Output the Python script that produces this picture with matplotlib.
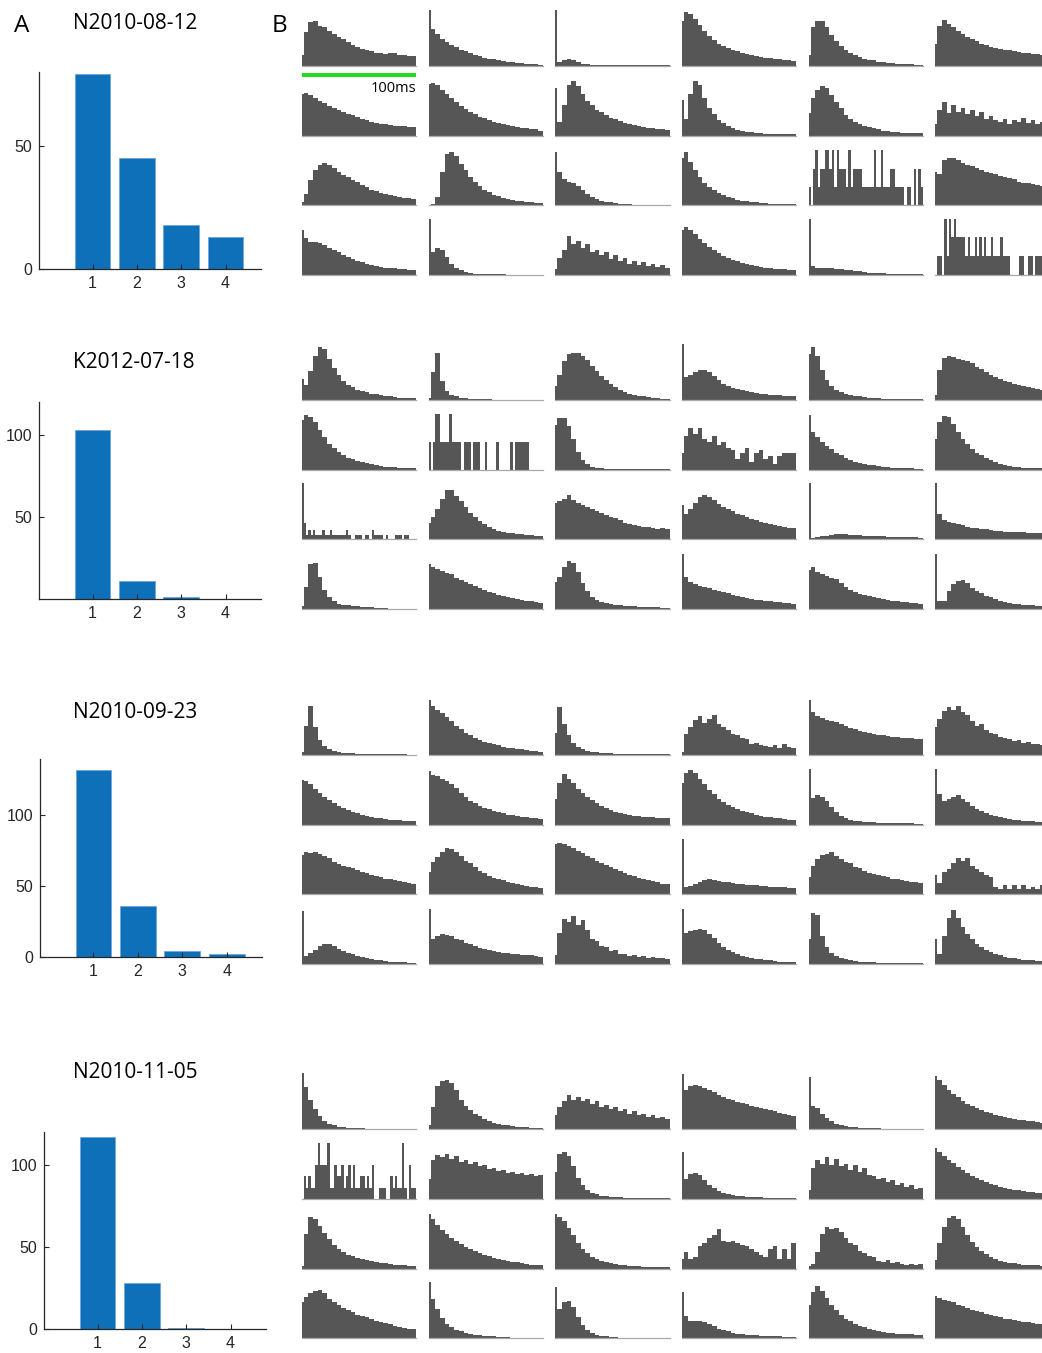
import numpy as np
import matplotlib
matplotlib.use("Agg")
import matplotlib.pyplot as plt
from matplotlib.patches import Rectangle

# ---------------- data ----------------
SESSIONS = ["N2010-08-12", "K2012-07-18", "N2010-09-23", "N2010-11-05"]
CATEGORIES = [1, 2, 3, 4]
COUNTS_G1 = [79, 45, 18, 13]
COUNTS_G2 = [103, 11, 1, 0]
COUNTS_G3 = [132, 36, 4, 2]
COUNTS_G4 = [117, 28, 1, 0]
YMAX = [80, 120, 140, 120]
YTICKS = [[0, 50], [50, 100], [0, 50, 100], [0, 50, 100]]
SCALE_MS = 100

# histograms (percent of panel height); element 0 = 0-2 ms bin,
# the remaining values split 2-100 ms evenly. Row-major, 6 per row.
HIST_G1 = [
    [20, 60, 78, 80, 72, 70, 62, 58, 52, 48, 42, 38, 34, 30, 29, 26, 24, 24, 22, 24, 23, 20, 20, 18, 17],
    [100, 66, 57, 49, 43, 38, 34, 29, 26, 23, 20, 17, 15, 13, 12, 10, 9, 8, 7, 5, 5, 4, 3, 3, 2],
    [100, 8, 10, 12, 10, 7, 4, 3, 2, 2, 2, 1, 1, 1, 1, 1, 1, 1, 1, 1, 1, 1, 1, 1, 1],
    [80, 96, 92, 84, 74, 62, 54, 47, 40, 35, 32, 29, 26, 24, 21, 19, 18, 16, 15, 14, 12, 12, 11, 10, 9],
    [20, 70, 80, 80, 70, 55, 44, 36, 29, 24, 20, 16, 13, 11, 10, 8, 7, 6, 5, 4, 4, 3, 3, 2, 2],
    [40, 72, 82, 75, 70, 62, 58, 52, 48, 44, 40, 38, 34, 32, 30, 28, 28, 26, 25, 24, 24, 22, 22, 20, 20],
    [75, 76, 72, 68, 62, 58, 53, 50, 46, 43, 39, 36, 33, 30, 28, 25, 23, 21, 20, 19, 18, 17, 17, 16, 15],
    [92, 94, 90, 82, 75, 67, 60, 53, 47, 42, 38, 34, 31, 28, 25, 23, 21, 19, 17, 15, 14, 13, 12, 11, 9],
    [85, 25, 55, 90, 98, 88, 74, 62, 54, 46, 42, 37, 32, 29, 26, 23, 21, 19, 17, 16, 14, 13, 12, 11, 10],
    [64, 30, 75, 97, 90, 68, 50, 38, 28, 22, 17, 13, 10, 8, 7, 6, 5, 4, 3, 3, 2, 2, 2, 2, 2],
    [40, 68, 82, 88, 85, 72, 60, 50, 36, 30, 24, 20, 18, 15, 13, 12, 9, 8, 7, 6, 5, 5, 4, 4, 4],
    [20, 45, 60, 40, 55, 42, 50, 38, 45, 35, 42, 30, 35, 28, 24, 30, 20, 28, 25, 32, 22, 27, 20, 25, 22],
    [5, 20, 45, 62, 72, 76, 72, 66, 60, 54, 50, 45, 41, 36, 32, 28, 25, 22, 20, 18, 16, 14, 13, 12, 11],
    [0, 2, 15, 60, 92, 95, 88, 74, 62, 50, 42, 34, 28, 23, 19, 16, 13, 11, 9, 8, 7, 6, 5, 4, 4],
    [95, 60, 46, 42, 40, 34, 27, 20, 15, 11, 8, 6, 5, 4, 3, 2, 2, 1, 1, 1, 1, 1, 1, 1, 1],
    [85, 95, 78, 62, 50, 40, 33, 27, 22, 18, 15, 12, 10, 8, 7, 6, 5, 4, 4, 3, 3, 2, 2, 2, 2],
    [32, 0, 65, 99, 32, 65, 65, 99, 99, 65, 99, 32, 99, 65, 65, 65, 32, 99, 32, 65, 65,
     65, 65, 32, 32, 32, 32, 32, 99, 32, 32, 99, 32, 32, 32, 65, 65, 32, 32, 32, 32,
     0, 32, 32, 0, 65, 0, 65, 32],
    [60, 55, 80, 85, 84, 80, 76, 72, 70, 66, 62, 60, 58, 55, 52, 50, 48, 46, 42, 40, 40, 37, 36, 34, 32],
    [80, 66, 58, 59, 57, 54, 48, 45, 40, 36, 32, 29, 25, 22, 19, 17, 15, 14, 13, 13, 12, 11, 10, 9, 9],
    [100, 40, 47, 44, 32, 20, 12, 8, 5, 3, 2, 2, 1, 1, 1, 1, 1, 0, 0, 0, 0, 0, 0, 0, 0],
    [10, 30, 45, 70, 55, 60, 48, 55, 40, 45, 35, 40, 28, 35, 25, 30, 20, 25, 18, 22, 15, 20, 14, 17, 12],
    [80, 85, 80, 72, 64, 56, 50, 44, 39, 34, 30, 27, 24, 21, 19, 17, 16, 14, 13, 12, 11, 10, 10, 9, 8],
    [99, 15, 12, 12, 13, 12, 11, 10, 9, 8, 7, 6, 5, 4, 4, 3, 3, 2, 2, 2, 2, 1, 1, 1, 1],
    [0, 33, 33, 0, 100, 33, 100, 67, 100, 67, 67, 67, 67, 33, 67, 33, 33, 67, 33, 67, 33,
     67, 33, 33, 67, 33, 33, 33, 67, 33, 33, 33, 0, 0, 0, 0, 33, 33, 0, 0, 33,
     33, 0, 33, 33, 33, 0, 33, 0],
]

HIST_G2 = [
    [38, 28, 52, 80, 95, 92, 74, 58, 45, 35, 28, 23, 19, 16, 14, 12, 11, 10, 8, 7, 6, 5, 5, 4, 4],
    [5, 50, 85, 35, 16, 10, 7, 5, 4, 3, 3, 2, 2, 2, 1, 1, 1, 1, 1, 1, 1, 1, 1, 1, 1],
    [25, 45, 70, 82, 84, 84, 80, 72, 62, 52, 44, 37, 30, 24, 19, 15, 12, 10, 8, 7, 6, 5, 4, 3, 3],
    [100, 42, 46, 50, 54, 54, 50, 44, 36, 30, 26, 22, 20, 18, 16, 15, 13, 12, 11, 10, 10, 9, 8, 8, 7],
    [82, 95, 80, 55, 36, 26, 19, 15, 12, 10, 8, 7, 6, 5, 4, 4, 3, 3, 3, 2, 2, 2, 2, 2, 2],
    [10, 55, 75, 80, 78, 74, 72, 70, 66, 60, 56, 50, 46, 42, 38, 35, 32, 30, 28, 26, 24, 22, 20, 19, 18],
    [90, 98, 95, 86, 72, 58, 47, 39, 32, 26, 22, 19, 16, 14, 12, 10, 9, 7, 6, 5, 5, 4, 4, 3, 3],
    [49, 0, 49, 100, 100, 49, 49, 49, 49, 100, 49, 49, 49, 49, 0, 49, 49, 49, 0, 49, 49,
     49, 0, 0, 49, 0, 0, 0, 0, 49, 0, 0, 0, 0, 0, 49, 0, 49, 49, 49, 49,
     49, 49, 0, 0, 0, 0, 0, 0],
    [80, 92, 93, 78, 55, 32, 18, 10, 6, 4, 3, 2, 2, 1, 1, 1, 1, 1, 1, 1, 1, 1, 1, 1, 1],
    [30, 60, 75, 65, 75, 55, 50, 60, 45, 50, 40, 35, 20, 30, 40, 15, 30, 35, 20, 25, 10, 25, 30, 30, 30],
    [98, 68, 58, 50, 43, 37, 31, 26, 22, 18, 15, 13, 11, 9, 8, 7, 6, 5, 4, 4, 3, 3, 3, 2, 2],
    [55, 85, 97, 94, 82, 68, 56, 46, 38, 31, 26, 21, 17, 14, 11, 9, 7, 6, 5, 4, 4, 3, 3, 3, 2],
    [100, 30, 8, 17, 8, 17, 8, 8, 8, 17, 8, 8, 17, 8, 8, 8, 8, 8, 8, 17, 8,
     0, 0, 8, 8, 8, 0, 8, 8, 0, 17, 8, 8, 8, 8, 0, 8, 0, 0, 0, 8,
     8, 8, 0, 8, 8, 0, 0, 0],
    [30, 40, 55, 72, 88, 88, 78, 68, 58, 48, 40, 33, 27, 22, 19, 16, 14, 12, 11, 10, 9, 8, 8, 7, 7],
    [65, 68, 72, 80, 70, 66, 62, 58, 54, 50, 48, 44, 40, 38, 34, 30, 28, 26, 24, 22, 22, 20, 19, 20, 18],
    [62, 45, 55, 66, 75, 80, 76, 70, 64, 58, 54, 50, 46, 43, 40, 37, 34, 32, 29, 27, 25, 24, 22, 21, 20],
    [100, 3, 4, 6, 7, 8, 9, 9, 9, 8, 8, 8, 7, 7, 6, 6, 6, 5, 5, 5, 4, 4, 4, 4, 3],
    [100, 45, 35, 32, 30, 28, 26, 22, 21, 20, 19, 18, 17, 16, 15, 14, 14, 13, 13, 13, 12, 12, 11, 11, 10],
    [5, 40, 80, 82, 58, 35, 22, 15, 10, 8, 7, 6, 5, 4, 3, 3, 2, 2, 2, 1, 1, 1, 1, 1, 1],
    [80, 76, 72, 68, 64, 62, 56, 52, 48, 45, 41, 38, 34, 31, 28, 26, 24, 22, 20, 18, 17, 15, 14, 12, 11],
    [48, 58, 75, 86, 82, 66, 46, 32, 22, 17, 13, 11, 9, 8, 7, 6, 5, 5, 4, 4, 3, 3, 3, 2, 2],
    [99, 58, 48, 44, 42, 40, 38, 35, 32, 30, 28, 26, 24, 22, 20, 18, 17, 16, 15, 14, 13, 12, 11, 11, 10],
    [70, 76, 66, 62, 60, 56, 54, 46, 40, 35, 30, 27, 25, 23, 21, 20, 18, 16, 15, 14, 13, 12, 11, 11, 10],
    [99, 14, 15, 32, 45, 50, 52, 46, 38, 32, 28, 24, 21, 18, 15, 13, 11, 10, 9, 8, 7, 7, 6, 6, 5],
]

HIST_G3 = [
    [5, 52, 88, 50, 26, 16, 10, 7, 5, 4, 3, 3, 2, 2, 2, 1, 1, 1, 1, 1, 1, 1, 1, 0, 0],
    [98, 88, 81, 75, 68, 60, 52, 46, 40, 35, 30, 27, 24, 21, 19, 17, 15, 13, 12, 11, 10, 9, 8, 7, 6],
    [40, 85, 55, 35, 22, 15, 11, 8, 6, 5, 4, 3, 3, 2, 2, 2, 1, 1, 1, 1, 1, 1, 1, 1, 1],
    [5, 38, 50, 62, 70, 58, 65, 72, 55, 50, 45, 38, 35, 30, 28, 20, 22, 18, 16, 15, 18, 12, 20, 14, 12],
    [98, 76, 70, 66, 63, 61, 59, 55, 52, 48, 46, 43, 41, 39, 37, 36, 35, 34, 33, 32, 31, 30, 30, 29, 28],
    [50, 65, 78, 85, 80, 88, 76, 72, 60, 52, 56, 45, 40, 38, 32, 30, 28, 25, 26, 22, 24, 20, 19, 18, 17],
    [80, 78, 72, 64, 56, 50, 44, 39, 34, 30, 26, 23, 20, 18, 16, 14, 12, 11, 10, 9, 8, 8, 7, 7, 6],
    [95, 88, 86, 82, 78, 72, 65, 57, 50, 43, 38, 34, 30, 27, 24, 22, 20, 18, 17, 15, 14, 13, 12, 11, 10],
    [45, 75, 90, 82, 74, 64, 56, 50, 44, 38, 34, 30, 26, 23, 21, 19, 17, 16, 15, 14, 14, 13, 12, 12, 11],
    [75, 92, 97, 92, 82, 72, 62, 54, 46, 40, 35, 31, 28, 25, 22, 20, 18, 16, 14, 13, 12, 11, 10, 9, 8],
    [100, 48, 52, 50, 42, 32, 22, 15, 11, 9, 7, 6, 5, 4, 4, 3, 3, 2, 2, 2, 2, 2, 2, 1, 1],
    [100, 55, 42, 45, 50, 52, 46, 40, 33, 28, 24, 20, 17, 15, 13, 11, 10, 9, 8, 7, 6, 6, 5, 5, 4],
    [70, 76, 74, 75, 72, 68, 64, 58, 54, 50, 48, 46, 43, 40, 38, 35, 32, 30, 28, 27, 25, 24, 22, 20, 19],
    [40, 58, 66, 75, 82, 80, 76, 68, 60, 55, 48, 42, 38, 33, 29, 27, 25, 22, 20, 18, 16, 15, 13, 12, 11],
    [90, 91, 89, 86, 83, 78, 74, 69, 64, 60, 56, 52, 48, 45, 41, 38, 35, 32, 29, 27, 25, 23, 21, 19, 18],
    [99, 13, 15, 18, 22, 25, 27, 26, 24, 22, 21, 20, 19, 18, 17, 16, 16, 15, 14, 13, 13, 12, 12, 11, 11],
    [30, 50, 62, 70, 72, 75, 68, 62, 58, 55, 48, 46, 42, 38, 36, 34, 32, 30, 28, 27, 26, 24, 22, 22, 20],
    [34, 20, 40, 45, 55, 65, 60, 65, 50, 45, 40, 35, 30, 12, 10, 16, 9, 16, 9, 16, 9, 12, 9, 16, 9],
    [95, 14, 20, 25, 32, 35, 35, 32, 27, 23, 20, 17, 14, 12, 10, 8, 7, 6, 5, 4, 4, 3, 3, 2, 2],
    [98, 45, 50, 54, 52, 49, 45, 42, 38, 35, 32, 29, 27, 25, 23, 21, 20, 19, 18, 17, 16, 15, 15, 14, 13],
    [15, 55, 80, 75, 85, 70, 78, 60, 45, 40, 32, 30, 22, 25, 18, 17, 14, 15, 12, 14, 11, 13, 10, 11, 9],
    [98, 55, 58, 60, 62, 60, 54, 46, 38, 30, 25, 21, 17, 14, 12, 10, 9, 8, 7, 6, 5, 4, 4, 3, 3],
    [45, 90, 88, 50, 30, 20, 14, 10, 8, 6, 5, 4, 3, 3, 3, 2, 2, 2, 2, 1, 1, 1, 1, 1, 1],
    [45, 18, 50, 82, 96, 82, 65, 54, 44, 36, 30, 25, 21, 18, 15, 12, 11, 10, 8, 7, 6, 6, 5, 5, 4],
]

HIST_G4 = [
    [100, 76, 52, 36, 24, 15, 10, 7, 5, 4, 3, 2, 2, 2, 1, 1, 1, 1, 1, 1, 1, 1, 1, 1, 1],
    [8, 40, 78, 87, 88, 82, 70, 52, 42, 34, 28, 23, 19, 15, 12, 10, 8, 7, 6, 5, 4, 4, 3, 3, 2],
    [25, 40, 50, 62, 52, 58, 50, 55, 46, 50, 40, 44, 36, 40, 32, 36, 28, 32, 26, 28, 22, 25, 20, 22, 18],
    [98, 70, 78, 80, 78, 74, 70, 66, 62, 58, 55, 52, 49, 47, 45, 42, 40, 38, 36, 34, 32, 30, 28, 26, 24],
    [94, 42, 38, 28, 20, 14, 10, 8, 6, 5, 4, 3, 3, 2, 2, 2, 1, 1, 1, 1, 1, 1, 1, 1, 1],
    [95, 88, 80, 70, 63, 57, 51, 46, 42, 38, 34, 31, 29, 26, 24, 22, 20, 19, 17, 16, 15, 14, 13, 12, 11],
    [0, 40, 19, 40, 19, 19, 61, 99, 61, 61, 61, 99, 19, 19, 61, 40, 40, 61, 19, 40, 61,
     19, 61, 19, 19, 40, 40, 19, 40, 19, 61, 0, 0, 19, 19, 19, 0, 0, 40, 19, 40,
     19, 19, 99, 19, 0, 61, 19, 19],
    [35, 70, 78, 74, 80, 72, 76, 66, 70, 62, 66, 58, 60, 54, 56, 50, 52, 46, 48, 44, 46, 42, 44, 40, 42],
    [48, 80, 83, 76, 58, 38, 24, 16, 11, 8, 6, 5, 4, 3, 3, 2, 2, 1, 1, 1, 1, 1, 1, 1, 1],
    [83, 36, 44, 47, 43, 34, 25, 19, 14, 11, 9, 7, 6, 5, 4, 4, 3, 3, 2, 2, 2, 2, 1, 1, 1],
    [15, 55, 70, 62, 75, 60, 72, 58, 62, 52, 60, 48, 55, 42, 40, 35, 38, 30, 34, 25, 28, 22, 24, 18, 20],
    [90, 84, 76, 70, 64, 57, 51, 46, 41, 37, 33, 30, 27, 24, 22, 20, 18, 16, 15, 14, 13, 12, 11, 10, 10],
    [5, 62, 92, 88, 76, 64, 52, 42, 35, 29, 25, 22, 19, 17, 15, 13, 12, 10, 9, 8, 7, 6, 6, 5, 5],
    [98, 88, 78, 68, 61, 55, 49, 44, 39, 35, 31, 28, 25, 22, 19, 17, 15, 13, 12, 11, 9, 8, 7, 7, 6],
    [98, 92, 84, 72, 60, 46, 35, 27, 21, 17, 14, 12, 10, 8, 7, 6, 5, 4, 4, 3, 3, 3, 2, 2, 2],
    [17, 30, 17, 20, 40, 45, 55, 60, 70, 50, 48, 50, 45, 42, 40, 35, 30, 25, 20, 35, 40, 17, 35, 17, 45],
    [5, 8, 30, 62, 75, 70, 72, 66, 55, 45, 42, 32, 28, 22, 20, 14, 12, 15, 9, 12, 8, 6, 8, 6, 8],
    [15, 45, 75, 90, 94, 88, 74, 60, 48, 38, 31, 26, 21, 17, 14, 12, 10, 9, 8, 7, 7, 6, 6, 5, 5],
    [65, 74, 80, 84, 86, 80, 70, 64, 60, 54, 50, 46, 42, 40, 37, 34, 31, 29, 27, 25, 22, 20, 18, 17, 16],
    [100, 70, 52, 36, 26, 20, 15, 12, 9, 7, 6, 5, 4, 3, 3, 2, 2, 2, 1, 1, 1, 1, 1, 1, 1],
    [92, 52, 64, 66, 55, 38, 24, 14, 9, 6, 4, 3, 2, 2, 1, 1, 1, 1, 1, 1, 1, 1, 1, 1, 1],
    [83, 40, 31, 30, 30, 28, 25, 21, 17, 14, 12, 10, 8, 7, 6, 5, 5, 4, 4, 3, 3, 3, 2, 2, 2],
    [60, 82, 93, 85, 72, 60, 50, 42, 35, 30, 26, 22, 19, 17, 15, 13, 11, 10, 9, 8, 8, 7, 7, 6, 6],
    [75, 72, 68, 66, 64, 60, 57, 54, 50, 48, 46, 43, 41, 39, 37, 35, 34, 32, 30, 29, 28, 27, 26, 25, 24],
]

# ---------------- layout ----------------
W, H = 1042, 1353
fig = plt.figure(figsize=(W / 100, H / 100), dpi=100)
fig.patch.set_facecolor("white")


def fx(x):
    return x / W


def fy(y):
    return 1 - y / H


TXT = "#262626"
BAR_BLUE = "#0e70b8"
HIST_GRAY = "#565656"
TITLE_FONT = ["Open Sans", "DejaVu Sans"]
TICK_FONT = ["Liberation Sans", "DejaVu Sans"]

# panel A: bar charts
counts = [COUNTS_G1, COUNTS_G2, COUNTS_G3, COUNTS_G4]
bar_boxes = [(39.3, 71.7, 261.0, 269.3), (39.3, 401.7, 261.0, 598.7),
             (40.0, 759.0, 262.3, 956.7), (44.3, 1132.3, 266.0, 1329.3)]
title_base = [29.3, 368.3, 717.7, 1078.3]

for g in range(4):
    l, t, r, b = bar_boxes[g]
    ax = fig.add_axes([fx(l), fy(b), (r - l) / W, (b - t) / H])
    ax.bar(CATEGORIES, counts[g], width=0.8, color=BAR_BLUE,
           edgecolor="#6ea6d8", linewidth=0.6)
    ax.set_xlim(-0.2, 4.8)
    ax.set_ylim(0, YMAX[g])
    ax.set_xticks(CATEGORIES)
    ax.set_yticks(YTICKS[g])
    for s in ("top", "right"):
        ax.spines[s].set_visible(False)
    for s in ("left", "bottom"):
        ax.spines[s].set_color(TXT)
        ax.spines[s].set_linewidth(0.9)
    ax.tick_params(direction="in", length=3.5, width=0.8, colors=TXT,
                   labelsize=11.5, pad=5.0)
    for lab in ax.get_xticklabels() + ax.get_yticklabels():
        lab.set_family(TICK_FONT)
    fig.text(fx(72.7), fy(title_base[g]), SESSIONS[g], fontsize=15,
             family=TITLE_FONT, ha="left", va="baseline", color="black")

fig.text(fx(13.5), fy(31.5), "A", fontsize=17.5, family=TITLE_FONT,
         ha="left", va="baseline")
fig.text(fx(272), fy(31.5), "B", fontsize=17.5, family=TITLE_FONT,
         ha="left", va="baseline")

# panel B: histograms
COL_X = [301.5, 428.5, 555.0, 681.5, 808.5, 935.0]
PW, PH = 114.5, 56.0
GROUP_BASE = [66.0, 400.3, 755.0, 1129.3]
ROW_STEP = 69.6
hists = [HIST_G1, HIST_G2, HIST_G3, HIST_G4]

first_ax = None
for g in range(4):
    for i, vals in enumerate(hists[g]):
        r, c = divmod(i, 6)
        base = GROUP_BASE[g] + r * ROW_STEP
        ax = fig.add_axes([fx(COL_X[c]), fy(base), PW / W, PH / H])
        n = len(vals) - 1
        edges = np.concatenate([[0.0], np.linspace(2.0, SCALE_MS, n + 1)])
        ax.stairs(vals, edges, fill=True, color=HIST_GRAY, linewidth=0)
        ax.axhline(0, color="#a9a9a9", linewidth=0.9, clip_on=False, zorder=3)
        ax.set_xlim(0, SCALE_MS)
        ax.set_ylim(0, 100)
        ax.axis("off")
        if g == 0 and i == 0:
            first_ax = ax

# scale bar under first histogram (100 ms = full panel width)
trans = first_ax.get_xaxis_transform()
first_ax.add_patch(Rectangle((0, -0.19), SCALE_MS, 0.071, transform=trans,
                             color="#1fdc1f", clip_on=False, linewidth=0))
first_ax.text(SCALE_MS, -0.46, "100ms", transform=trans, ha="right",
              va="baseline", fontsize=10.5, family=TITLE_FONT, color="black")

fig.savefig("out.png", dpi=100, facecolor="white")
